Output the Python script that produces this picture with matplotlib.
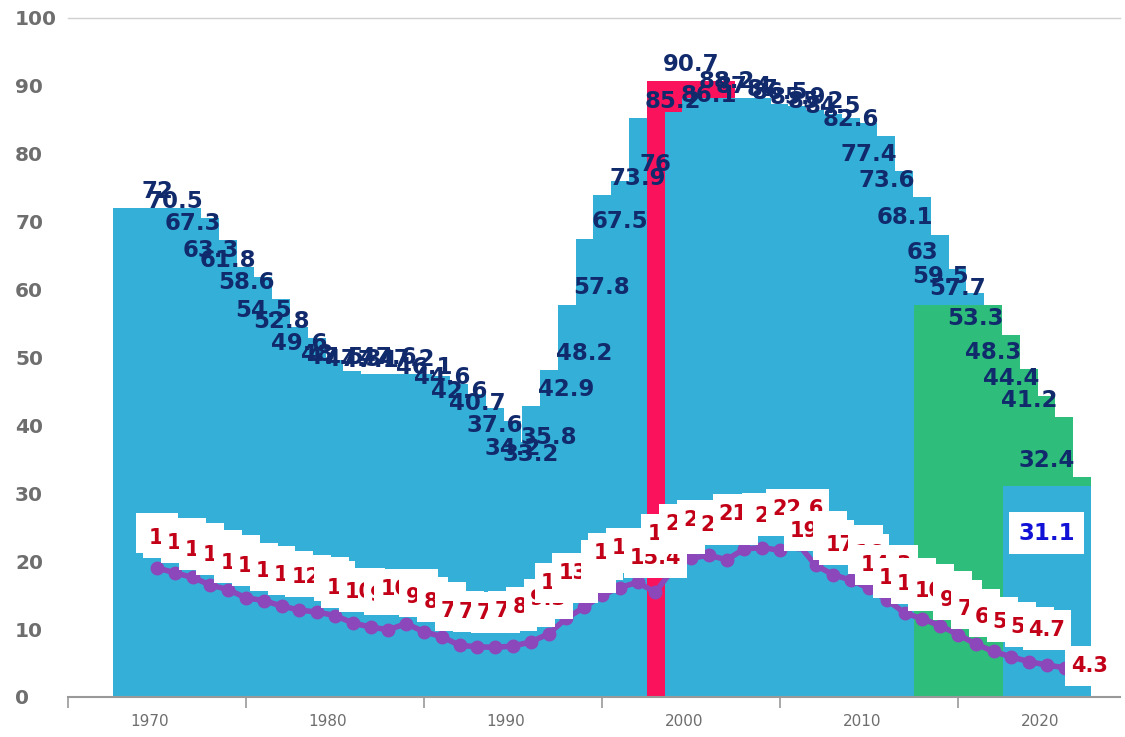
import matplotlib.pyplot as plt
from matplotlib.patches import Rectangle
from matplotlib.transforms import ScaledTranslation, IdentityTransform

# ====== DATA ======
years = list(range(1970, 2021))
share = [72, 70.5, 67.3, 63.3, 61.8, 58.6, 54.5, 52.8, 49.6, 48.0,
         47.5, 47.3, 47.1, 47.6, 47.2, 46.1, 44.6, 42.6, 40.7, 37.6,
         34.2, 33.2, 35.8, 42.9, 48.2, 57.8, 67.5, 73.9, 76, 85.2,
         90.7, 86.1, 88.2, 87.4, 87.0, 86.5, 85.9, 85.2, 84.5, 82.6,
         77.4, 73.6, 68.1, 63, 59.5, 57.7, 53.3, 48.3, 44.4, 41.2,
         32.4]

highlight_year = 2000
green_years = [2015, 2016, 2017, 2018, 2019, 2020]

extra_year = 2020
extra_value = 31.1

rate_years = list(range(1970, 2022))
rate = [19.0, 18.3, 17.6, 16.5, 15.8, 14.6, 14.2, 13.4, 12.8, 12.5,
        12.0, 10.9, 10.3, 9.9, 10.8, 9.6, 8.9, 7.6, 7.4, 7.3,
        7.5, 8.1, 9.3, 11.6, 13.2, 15.0, 16.1, 16.9, 15.4, 18.9,
        20.4, 20.9, 20.2, 21.8, 22.0, 21.6, 22.6, 19.4, 18.0, 17.2,
        16.0, 14.3, 12.4, 11.5, 10.5, 9.2, 7.8, 6.7, 5.9, 5.2,
        4.7, 4.3]

decades = [1970, 1980, 1990, 2000, 2010, 2020]
tick_marks = [1965, 1975, 1985, 1995, 2005, 2015]

# ====== COLORS ======
BLUE = "#34b0d8"
RED_BAR = "#fa135c"
GREEN = "#2ebd7b"
NAVY = "#112a6c"
RED_TXT = "#c20017"
PURPLE = "#8c47ba"
GRAY = "#6e6e6e"

bar_colors = []
for y in years:
    if y == highlight_year:
        bar_colors.append(RED_BAR)
    elif y in green_years:
        bar_colors.append(GREEN)
    else:
        bar_colors.append(BLUE)

# ====== CHART ======
fig = plt.figure(figsize=(11.25, 7.37), dpi=100)
ax = fig.add_axes([0.0604, 0.0543, 0.9351, 0.9213])

# wide overlapping bars, later ones on top
ax.bar(years, share, width=4.95, color=bar_colors, linewidth=0, zorder=1)
ax.bar([extra_year], [extra_value], width=4.95, color=BLUE, linewidth=0, zorder=1.5)

ax.plot(rate_years, rate, color=PURPLE, lw=4, marker="o", ms=9, zorder=3)

# red labels above the line (white boxes added once the layout is known)
red_labels = []
for i, (x, v) in enumerate(zip(rate_years, rate)):
    if i < len(rate) - 1:
        off = (0, 25)
    else:
        off = (18, 1)
    t = ax.annotate(f"{v:g}", (x, v), xytext=off, textcoords="offset points",
                    ha="center", va="center", color=RED_TXT, fontsize=15,
                    fontweight="bold", zorder=4 + i * 0.01 + 0.005,
                    annotation_clip=False)
    red_labels.append(t)

# bar values
for x, v in zip(years, share):
    ax.annotate(f"{v:g}", (x, v), xytext=(0, 12), textcoords="offset points",
                ha="center", va="center", color=NAVY, fontsize=16.5,
                fontweight="bold", zorder=5)

ax.annotate(f"{extra_value:g}", (extra_year, extra_value), xytext=(0, -34),
            textcoords="offset points", ha="center", va="center",
            color="#1212d6", fontsize=16.5, fontweight="bold", zorder=5,
            bbox=dict(boxstyle="square,pad=0.4", fc="white", ec="none"))

# ====== AXES ======
ax.set_xlim(1965, 2024.1)
ax.set_ylim(0, 100)

ax.set_yticks(range(0, 101, 10))
ax.tick_params(axis="y", length=0, pad=38, labelsize=14.5, labelcolor=GRAY)
for lbl in ax.get_yticklabels():
    lbl.set_ha("left")
    lbl.set_fontweight("bold")

ax.set_xticks(tick_marks)
ax.set_xticklabels([])
ax.tick_params(axis="x", which="major", length=8, width=1.2, color="#999999")
ax.set_xticks(decades, minor=True)
ax.set_xticklabels([str(d) for d in decades], minor=True)
ax.tick_params(axis="x", which="minor", length=0, pad=12, labelsize=11,
               labelcolor=GRAY)
shift = ScaledTranslation(-7 / 100, 0, fig.dpi_scale_trans)
for lbl in ax.get_xticklabels(minor=True):
    lbl.set_transform(lbl.get_transform() + shift)

for side in ["left", "right"]:
    ax.spines[side].set_visible(False)
ax.spines["bottom"].set_color("#999999")
ax.spines["bottom"].set_linewidth(1.5)
ax.spines["bottom"].set_zorder(6)
ax.spines["top"].set_color("#d0d0d0")
ax.spines["top"].set_linewidth(1)

# white boxes: narrow at the sides, tall above and below the text
fig.canvas.draw()
renderer = fig.canvas.get_renderer()
for t in red_labels:
    bb = t.get_window_extent(renderer)
    ax.add_patch(Rectangle((bb.x0 - 6, bb.y0 - 10), bb.width + 12, bb.height + 20,
                           transform=IdentityTransform(), fc="white", ec="none",
                           zorder=t.get_zorder() - 0.003, clip_on=False))

plt.savefig("out.png", dpi=100)
